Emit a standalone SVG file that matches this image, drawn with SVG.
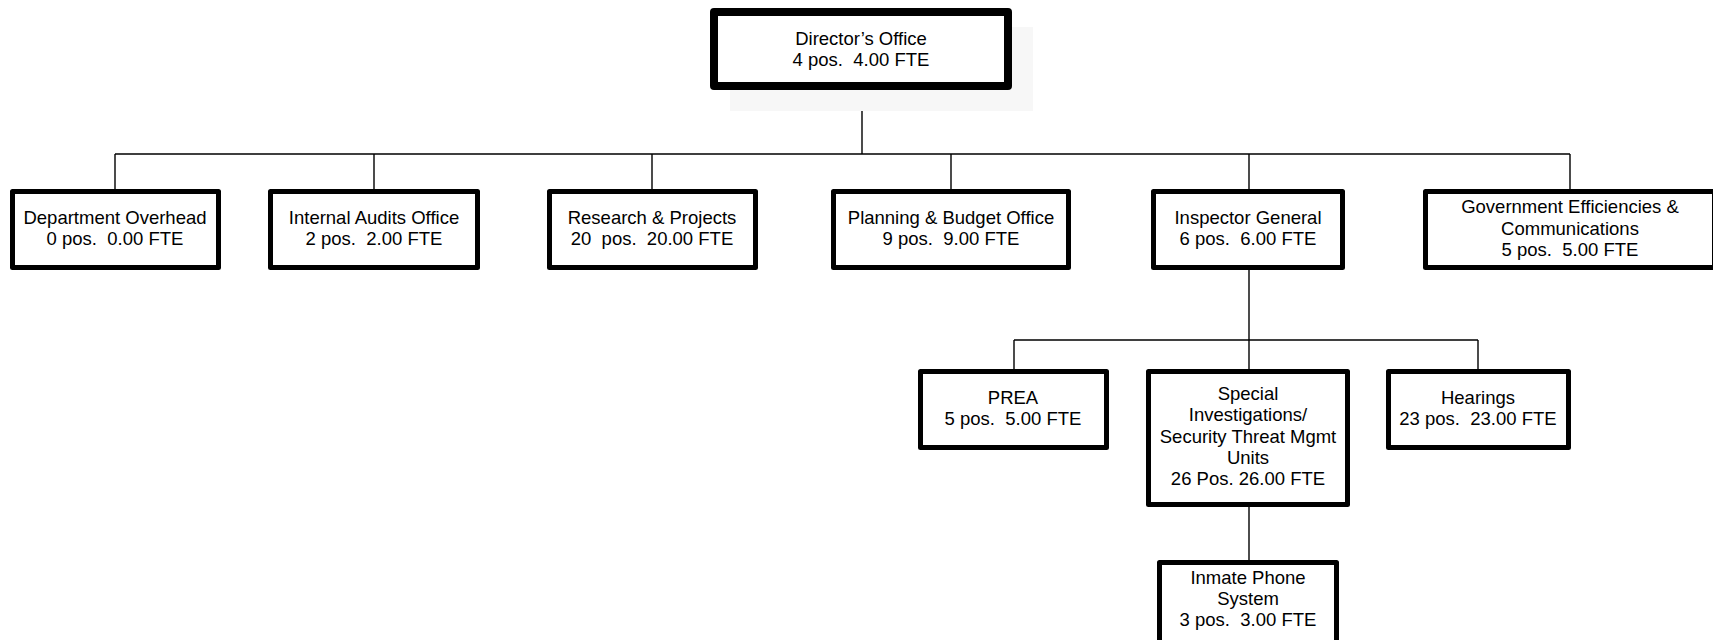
<svg xmlns="http://www.w3.org/2000/svg" width="1713" height="640" viewBox="0 0 1713 640">
<style>
.box{fill:#fff;stroke:#000;stroke-width:5;stroke-linejoin:round}
.top{fill:#fff;stroke:#000;stroke-width:8;stroke-linejoin:round}
.shadow{fill:#f7f7f7;stroke:none}
.conn{fill:none;stroke:#000;stroke-width:1.4}
text{font-family:"Liberation Sans",Arial,sans-serif;font-size:18.5px;fill:#000;text-anchor:middle;white-space:pre}
</style>
<rect width="1713" height="640" fill="#fff"/>
<g id="connectors">
<path class="conn" d="M862 90V154M115 154H1570M115 154V189M374 154V189M652 154V189M951 154V189M1249 154V189M1570 154V189"/>
<path class="conn" d="M1249 270V340M1014 340H1478M1014 340V369M1249 340V369M1478 340V369"/>
<path class="conn" d="M1249 507V560"/>
</g>
<g id="directors-office">
<rect class="shadow" x="730" y="27" width="303" height="84"/>
<rect class="top" x="714" y="12" width="294" height="74"/>
<text x="861" y="44.5">Director’s Office</text>
<text x="861" y="65.5" xml:space="preserve">4 pos.  4.00 FTE</text>
</g>
<g id="department-overhead">
<rect class="box" x="12.5" y="191.5" width="206" height="76"/>
<text x="115" y="224">Department Overhead</text>
<text x="115" y="245" xml:space="preserve">0 pos.  0.00 FTE</text>
</g>
<g id="internal-audits">
<rect class="box" x="270.5" y="191.5" width="207" height="76"/>
<text x="374" y="224">Internal Audits Office</text>
<text x="374" y="245" xml:space="preserve">2 pos.  2.00 FTE</text>
</g>
<g id="research-projects">
<rect class="box" x="549.5" y="191.5" width="206" height="76"/>
<text x="652" y="224">Research &amp; Projects</text>
<text x="652" y="245" xml:space="preserve">20  pos.  20.00 FTE</text>
</g>
<g id="planning-budget">
<rect class="box" x="833.5" y="191.5" width="235" height="76"/>
<text x="951" y="224">Planning &amp; Budget Office</text>
<text x="951" y="245" xml:space="preserve">9 pos.  9.00 FTE</text>
</g>
<g id="inspector-general">
<rect class="box" x="1153.5" y="191.5" width="189" height="76"/>
<text x="1248" y="224">Inspector General</text>
<text x="1248" y="245" xml:space="preserve">6 pos.  6.00 FTE</text>
</g>
<g id="government-efficiencies">
<rect class="box" x="1425.5" y="191.5" width="289" height="76"/>
<text x="1570" y="213">Government Efficiencies &amp;</text>
<text x="1570" y="234.5">Communications</text>
<text x="1570" y="255.5" xml:space="preserve">5 pos.  5.00 FTE</text>
</g>
<g id="prea">
<rect class="box" x="920.5" y="371.5" width="186" height="76"/>
<text x="1013" y="404">PREA</text>
<text x="1013" y="425" xml:space="preserve">5 pos.  5.00 FTE</text>
</g>
<g id="special-investigations">
<rect class="box" x="1148.5" y="371.5" width="199" height="133"/>
<text x="1248" y="399.5">Special</text>
<text x="1248" y="421">Investigations/</text>
<text x="1248" y="442.5">Security Threat Mgmt</text>
<text x="1248" y="464">Units</text>
<text x="1248" y="485">26 Pos. 26.00 FTE</text>
</g>
<g id="hearings">
<rect class="box" x="1388.5" y="371.5" width="180" height="76"/>
<text x="1478" y="404">Hearings</text>
<text x="1478" y="425" xml:space="preserve">23 pos.  23.00 FTE</text>
</g>
<g id="inmate-phone">
<rect class="box" x="1159.5" y="562.5" width="177" height="92"/>
<text x="1248" y="583.5">Inmate Phone</text>
<text x="1248" y="605">System</text>
<text x="1248" y="626" xml:space="preserve">3 pos.  3.00 FTE</text>
</g>
</svg>
